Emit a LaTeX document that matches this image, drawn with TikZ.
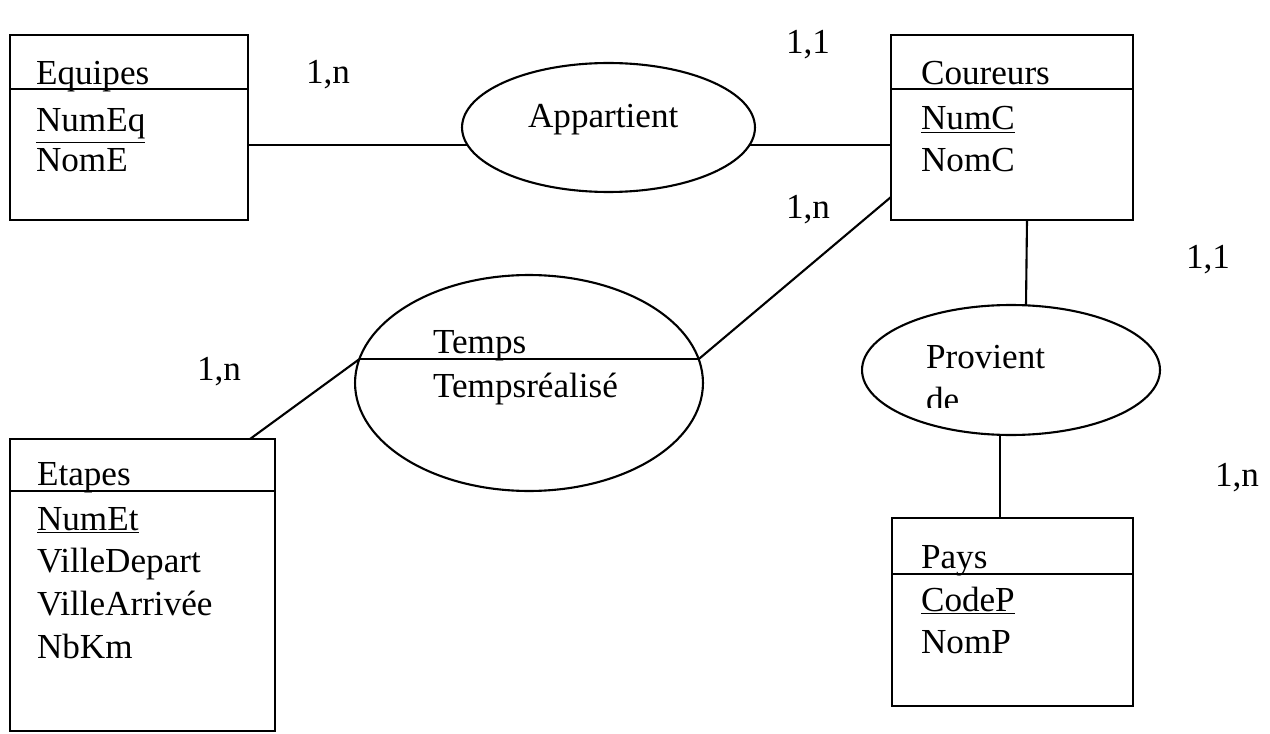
\documentclass[tikz,border=0pt]{standalone}
\usepackage{fontspec}
\setmainfont{Liberation Serif}
\usetikzlibrary{shapes.geometric}

\begin{document}
\begin{tikzpicture}[x=0.02cm,y=-0.02cm,line width=1.2pt,
    entite/.style={draw,rectangle,inner sep=0,outer sep=0},
    assoc/.style={draw,ellipse,inner sep=0,outer sep=0},
    champ/.style={anchor=base west,inner sep=0,font=\fontsize{20}{23}\selectfont},
    card/.style={inner sep=0,font=\fontsize{20}{23}\selectfont}]
    \useasboundingbox (0,0) rectangle (1270,733);

    %ENTITES
    \node[entite,minimum width=4.76cm,minimum height=3.7cm] (Equipes) at (129,127.5) {};
    \node[entite,minimum width=4.84cm,minimum height=3.7cm] (Coureurs) at (1012,127.5) {};
    \node[entite,minimum width=5.3cm,minimum height=5.84cm] (Etapes) at (142.5,585) {};
    \node[entite,minimum width=4.82cm,minimum height=3.76cm] (Pays) at (1012.5,612) {};
    \draw ([yshift=-1.08cm]Equipes.north west) -- ([yshift=-1.08cm]Equipes.north east);
    \draw ([yshift=-1.08cm]Coureurs.north west) -- ([yshift=-1.08cm]Coureurs.north east);
    \draw ([yshift=-1.04cm]Etapes.north west) -- ([yshift=-1.04cm]Etapes.north east);
    \draw ([yshift=-1.12cm]Pays.north west) -- ([yshift=-1.12cm]Pays.north east);

    \node[champ] (eq title) at (35,85) {Equipes};
    \node[champ] (eq id) at (35,132) {\underline{NumEq}};
    \node[champ] (eq nom) at (35,172) {NomE};
    \node[champ] (co title) at (920,85) {Coureurs};
    \node[champ] (co id) at (920,130) {\underline{NumC}};
    \node[champ] (co nom) at (920,172) {NomC};
    \node[champ] (et title) at (36,485) {Etapes};
    \node[champ] (et id) at (36,530) {\underline{NumEt}};
    \node[champ] (et dep) at (36,572) {VilleDepart};
    \node[champ] (et arr) at (36,615) {VilleArrivée};
    \node[champ] (et km) at (36,658) {NbKm};
    \node[champ] (pa title) at (920,568) {Pays};
    \node[champ] (pa id) at (920,611) {\underline{CodeP}};
    \node[champ] (pa nom) at (920,653) {NomP};

    %ASSOCIATIONS
    \node[assoc,minimum width=5.86cm,minimum height=2.58cm] (Appartient) at (608.5,127.5) {};
    \node[assoc,minimum width=6.96cm,minimum height=4.32cm] (Temps) at (529,383) {};
    \node[assoc,minimum width=5.96cm,minimum height=2.6cm] (Provient) at (1011,370) {};
    \draw (Temps.172) -- (Temps.8);

    \node[champ] (ap nom) at (527,128) {Appartient};
    \node[champ] (te nom) at (432,353) {Temps};
    \node[champ] (te attr) at (432,397) {Tempsréalisé};
    \node[champ] (pr nom) at (925,368) {Provient};
    \begin{scope}
    \clip (850,380) rectangle (1170,407);
    \node[champ] (pr de) at (925,411) {de};
    \end{scope}

    %LIENS
    \draw (Equipes.east |- Appartient.187) -- (Appartient.187);
    \draw (Appartient.353) -- (Appartient.353 -| Coureurs.west);
    \draw ([xshift=-0.5cm]Etapes.north east) -- (Temps.172);
    \draw (Temps.8) -- ([yshift=0.46cm]Coureurs.south west);
    \draw ([xshift=0.3cm]Coureurs.south) -- ([xshift=0.3cm]Provient.north);
    \draw ([xshift=-0.22cm]Provient.south) -- ([xshift=-0.22cm]Provient.south |- Pays.north);

    %CARDINALITES
    \node[card] (c1) at (328,75) {1,n};
    \node[card] (c2) at (808,45) {1,1};
    \node[card] (c3) at (808,210) {1,n};
    \node[card] (c4) at (1208,260) {1,1};
    \node[card] (c5) at (219,372) {1,n};
    \node[card] (c6) at (1237,478) {1,n};
\end{tikzpicture}
\end{document}
